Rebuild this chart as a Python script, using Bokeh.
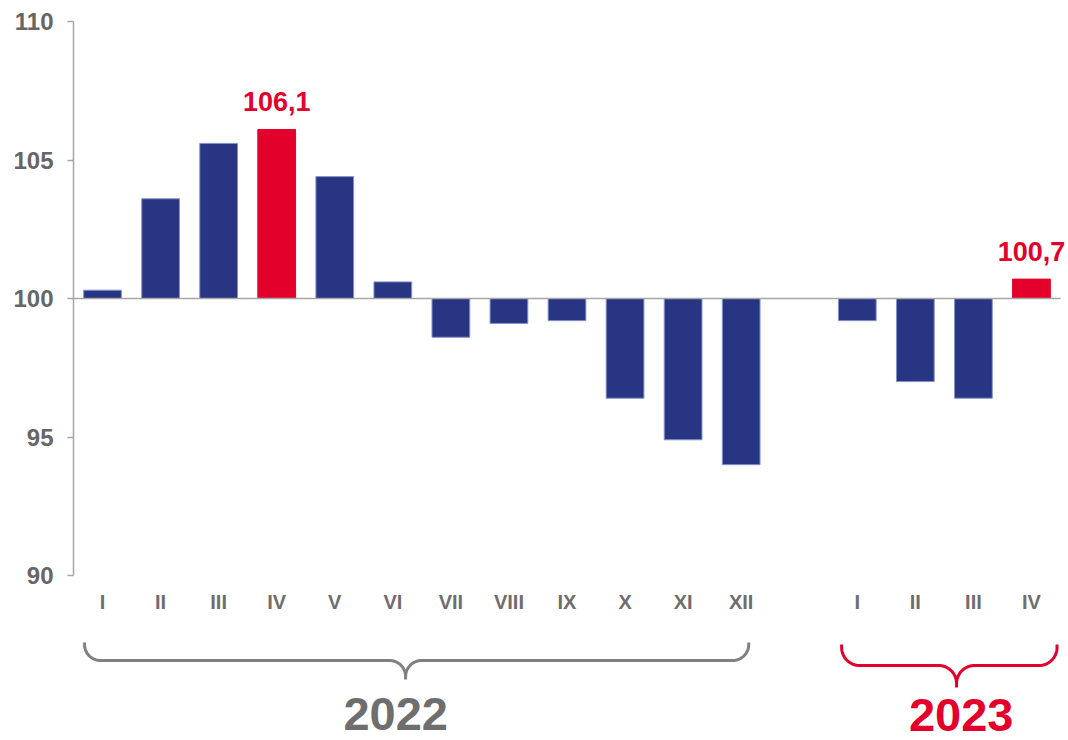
import numpy as np
from bokeh.plotting import figure
from bokeh.models import ColumnDataSource, FixedTicker, Range1d
from bokeh.core.properties import value
from bokeh.embed import file_html
from bokeh.resources import INLINE

# ---------------- data ----------------
months_2022 = ["I", "II", "III", "IV", "V", "VI", "VII", "VIII", "IX", "X", "XI", "XII"]
values_2022 = [100.3, 103.6, 105.6, 106.1, 104.4, 100.6, 98.6, 99.1, 99.2, 96.4, 94.9, 94.0]
months_2023 = ["I", "II", "III", "IV"]
values_2023 = [99.2, 97.0, 96.4, 100.7]
highlight_2022 = ["IV"]
highlight_2023 = ["IV"]
year_labels = ["2022", "2023"]
baseline = 100
y_ticks = [90, 95, 100, 105, 110]

# ---------------- style ----------------
BLUE = "#283583"
BLUE_EDGE = "#8592C8"
RED = "#E3002B"
GRAY = "#6E6E6E"
AXIS = "#A6A6A6"
BRACE_GRAY = "#808080"
FONT = value("Liberation Sans")

W, H = 1068, 740
LEFT = 73
PLOT_RIGHT = 1060                # where the slots end
PX_Y = 27.7                      # pixels per index point
y_end = 110 + 21 / PX_Y
y_start = y_end - H / PX_Y

# positions: 12 months of 2022, one empty slot, 4 months of 2023
x_2022 = list(range(len(months_2022)))
x_2023 = [len(months_2022) + 1 + i for i in range(len(months_2023))]
n_slots = x_2023[-1] + 1
PX_X = (PLOT_RIGHT - LEFT) / n_slots
x_end = -0.5 + (W - LEFT) / PX_X

xs = x_2022 + x_2023
vals = values_2022 + values_2023
labs = months_2022 + months_2023
hl = [m in highlight_2022 for m in months_2022] + [m in highlight_2023 for m in months_2023]

src = ColumnDataSource(dict(
    x=xs, top=vals, label=labs,
    fill=[RED if h else BLUE for h in hl],
    edge=[RED if h else BLUE_EDGE for h in hl],
))

p = figure(width=W, height=H, output_backend="svg", toolbar_location=None,
           x_range=Range1d(-0.5, x_end), y_range=Range1d(y_start, y_end),
           x_axis_location=None, min_border_left=LEFT, min_border_right=0,
           min_border_top=0, min_border_bottom=0)
p.outline_line_color = None
p.xgrid.visible = False
p.ygrid.visible = False
p.background_fill_color = "white"
p.border_fill_color = "white"

p.vbar(x="x", width=0.65, top="top", bottom=baseline, source=src,
       fill_color="fill", line_color="edge", line_width=1)

# baseline at 100 across all slots
p.line(x=[-0.5, n_slots - 0.5], y=[baseline, baseline], line_color=AXIS, line_width=1.5)

# y axis
ya = p.yaxis[0]
ya.ticker = FixedTicker(ticks=y_ticks)
ya.bounds = (y_ticks[0], y_ticks[-1])
ya.axis_line_color = AXIS
ya.axis_line_width = 1.5
ya.major_tick_line_color = AXIS
ya.major_tick_line_width = 1.5
ya.major_tick_out = 6
ya.major_tick_in = 0
ya.minor_tick_line_color = None
ya.major_label_standoff = 14
ya.major_label_text_font = "Liberation Sans"
ya.major_label_text_font_style = "bold"
ya.major_label_text_font_size = "24px"
ya.major_label_text_color = "#666666"

# value labels on highlighted bars
def py_to_y(py):
    return y_end - py / PX_Y

hx = [x for x, h in zip(xs, hl) if h]
hv = [v for v, h in zip(vals, hl) if h]
p.text(x=hx, y=hv, text=[f"{v:.1f}".replace(".", ",") for v in hv],
       text_align="center", text_baseline="alphabetic", y_offset=-28,
       text_font=FONT, text_font_style="bold", text_font_size="27px", text_color=RED)

# month labels
p.text(x="x", y=py_to_y(601), text="label", source=src,
       text_align="center", text_baseline="middle",
       text_font=FONT, text_font_style="bold", text_font_size="20px", text_color=GRAY)

# curly braces
def brace(x0, x1, xt, top_px, h_px, tip_px, r):
    pts = []
    def arc(cx, cy, a0, a1):
        t = np.linspace(a0, a1, 20)
        return list(zip(cx + r * np.cos(t), cy + r * np.sin(t)))
    X0 = (x0 + 0.5) * PX_X
    X1 = (x1 + 0.5) * PX_X
    XT = (xt + 0.5) * PX_X
    pts.append((X0, top_px))
    pts += arc(X0 + r, h_px - r, np.pi, np.pi / 2)
    pts += arc(XT - r, h_px + r, -np.pi / 2, 0)
    pts.append((XT, tip_px))
    pts += arc(XT + r, h_px + r, np.pi, 3 * np.pi / 2)
    pts += arc(X1 - r, h_px - r, np.pi / 2, 0)
    pts.append((X1, top_px))
    bx = [px / PX_X - 0.5 for px, _ in pts]
    by = [py_to_y(py) for _, py in pts]
    return bx, by

bx, by = brace(x_2022[0] - 0.31, x_2022[-1] + 0.13, 5.22, 642, 660, 679, 16)
p.line(bx, by, line_color=BRACE_GRAY, line_width=3)
bx, by = brace(x_2023[0] - 0.27, x_2023[-1] + 0.44, 14.71, 644, 665, 687, 18)
p.line(bx, by, line_color=RED, line_width=3)

# year labels
p.text(x=[5.05, 14.79], y=[py_to_y(713), py_to_y(714)], text=year_labels,
       text_align="center", text_baseline="middle",
       text_font=FONT, text_font_style="bold", text_font_size="47px",
       text_color=[GRAY, RED])

open("out.html", "w").write(file_html(p, INLINE))
